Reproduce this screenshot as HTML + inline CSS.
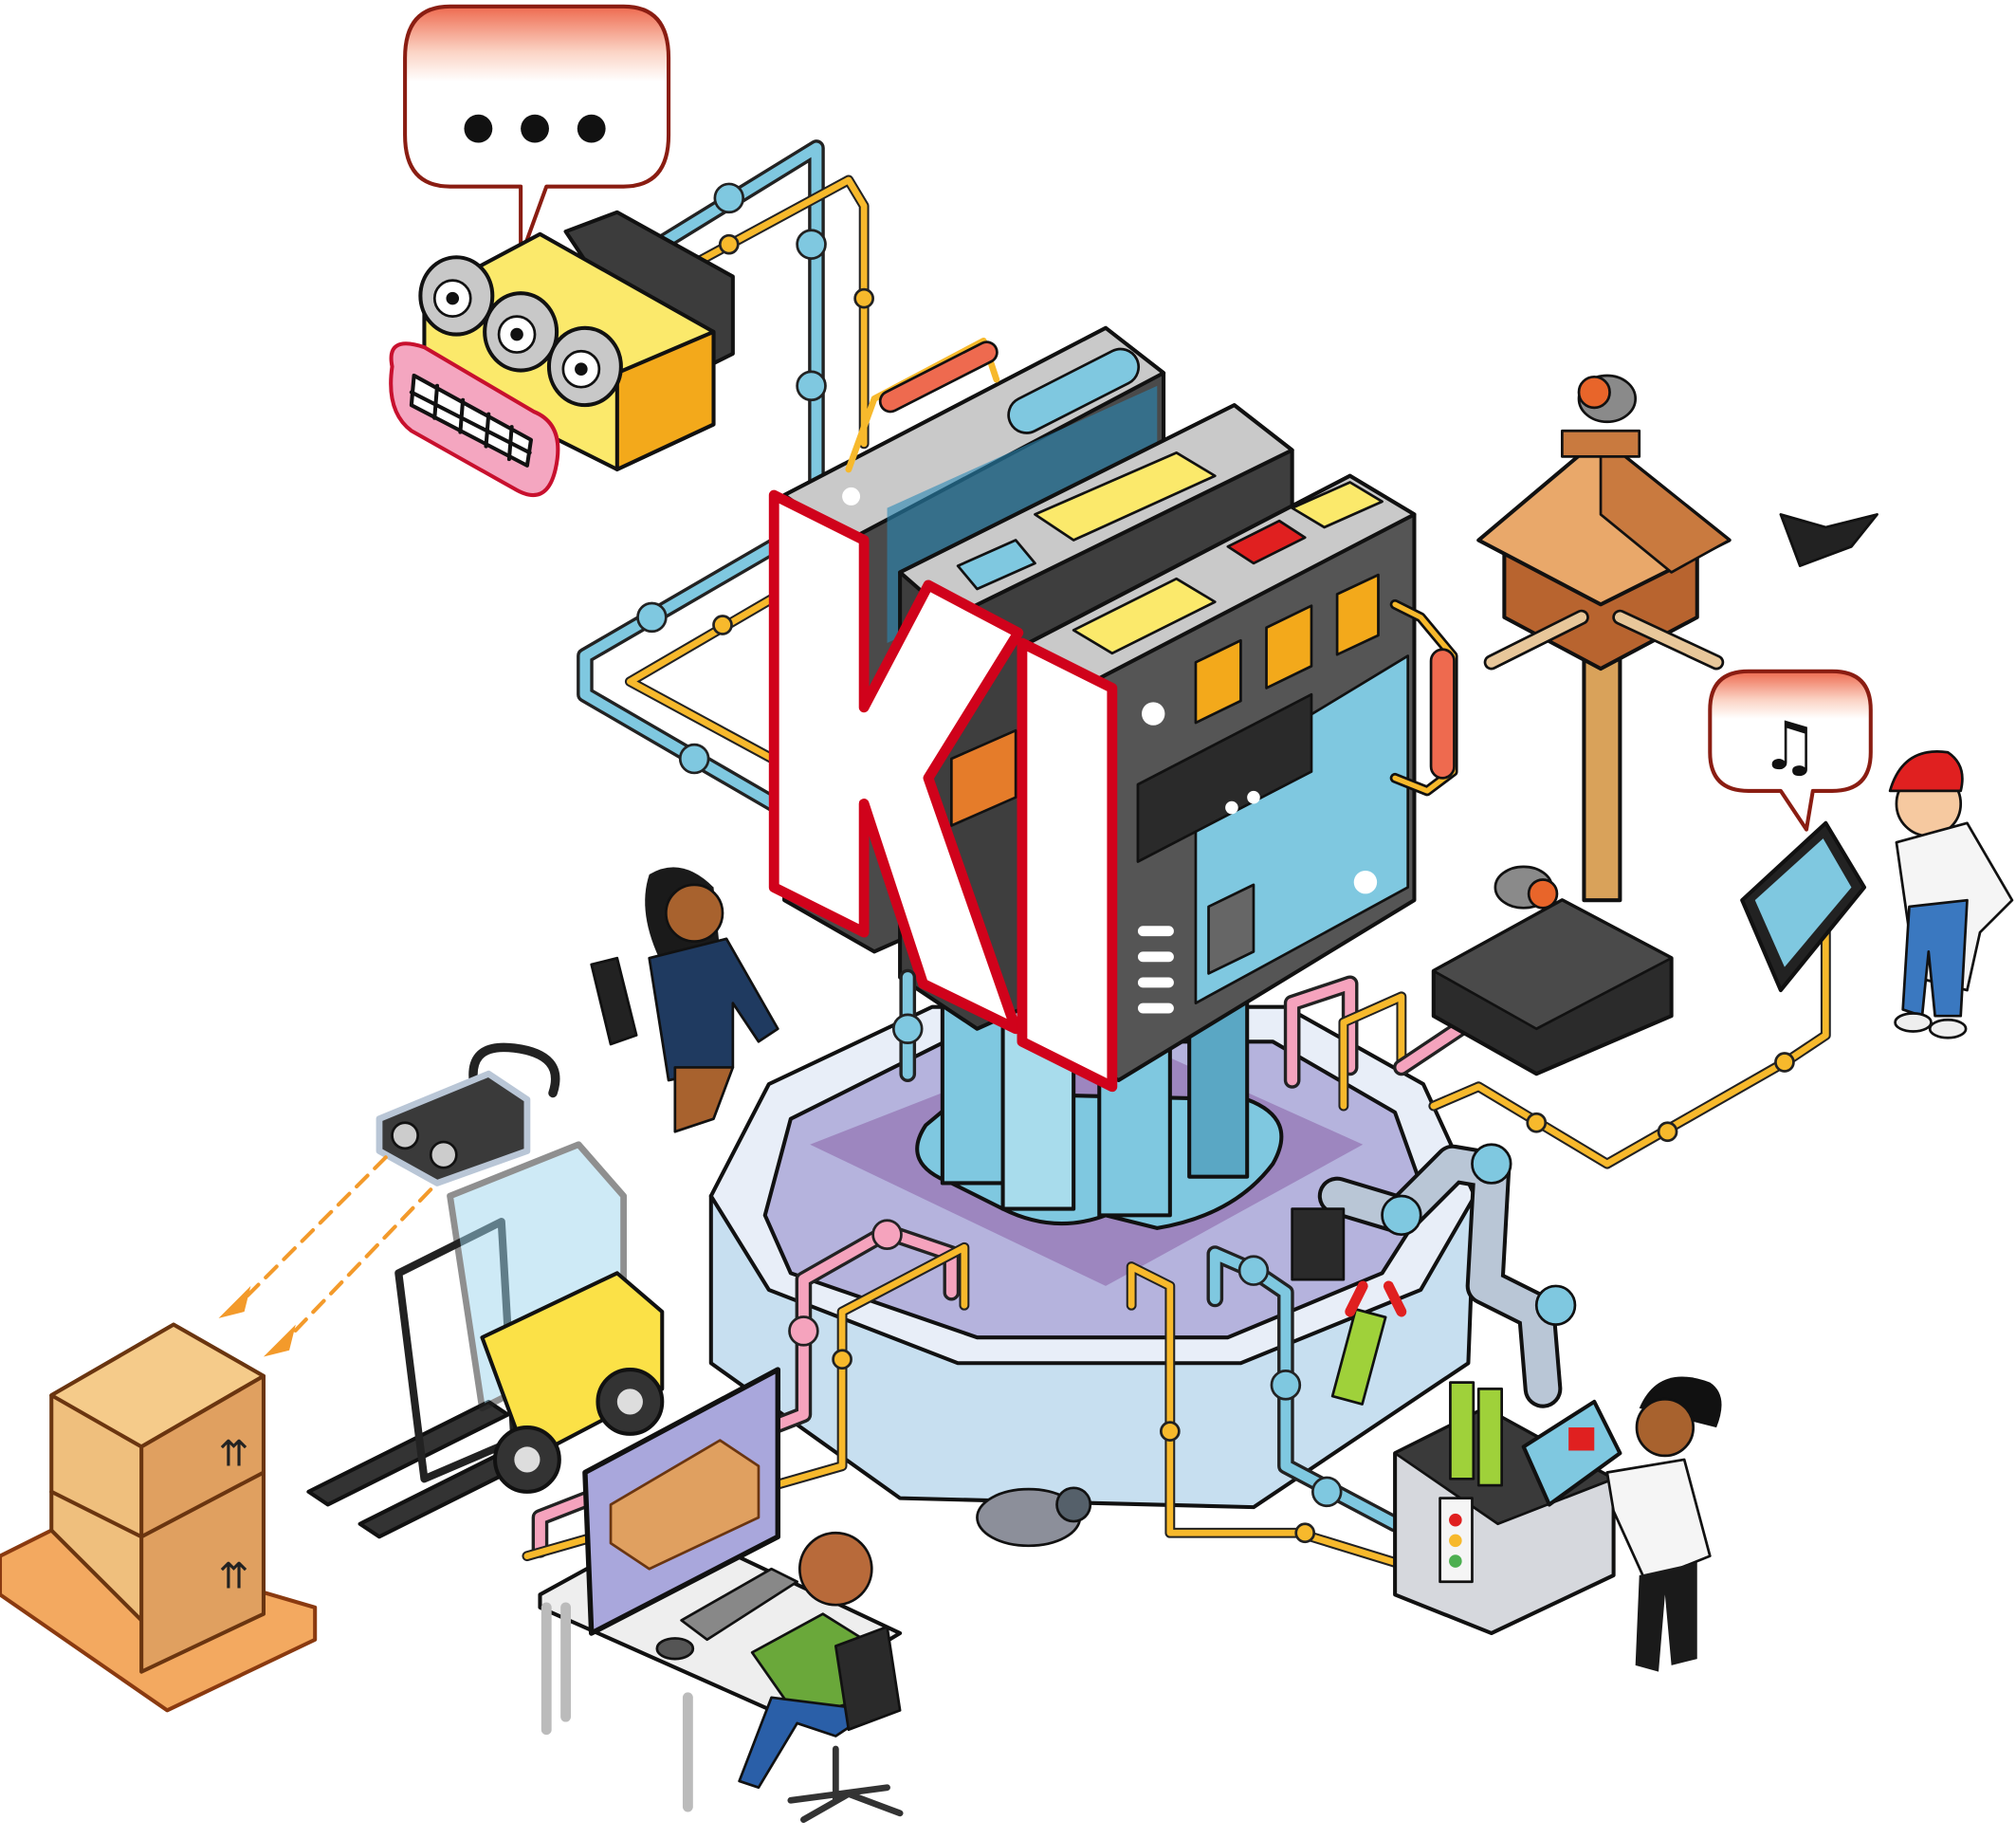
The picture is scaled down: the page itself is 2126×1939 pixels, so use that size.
<!DOCTYPE html>
<html><head><meta charset="utf-8"><style>
html,body{margin:0;padding:0;background:#fff;}
svg{display:block;}
</style></head><body>
<svg width="2126" height="1939" viewBox="0 0 1568 1430" xmlns="http://www.w3.org/2000/svg">
<defs>
<linearGradient id="bub" x1="0" y1="0" x2="0" y2="1">
<stop offset="0" stop-color="#ee6a4f"/><stop offset="0.18" stop-color="#fbd3c4"/><stop offset="0.3" stop-color="#fff"/><stop offset="1" stop-color="#fff"/>
</linearGradient>
</defs>
<g stroke-linejoin="round" stroke-linecap="round">

<!-- Pipes top -->
<g fill="none">
<path d="M505,195 L635,115 L635,390" stroke="#222" stroke-width="13"/>
<path d="M505,195 L635,115 L635,390" stroke="#7fc8e0" stroke-width="8"/>
<path d="M540,205 L660,140 L672,160 L672,345" stroke="#222" stroke-width="8"/>
<path d="M540,205 L660,140 L672,160 L672,345" stroke="#f7b92c" stroke-width="5"/>
<path d="M610,420 L455,510 L455,540 L610,630" stroke="#222" stroke-width="13"/>
<path d="M610,420 L455,510 L455,540 L610,630" stroke="#7fc8e0" stroke-width="8"/>
<path d="M610,460 L490,530 L610,595" stroke="#222" stroke-width="8"/>
<path d="M610,460 L490,530 L610,595" stroke="#f7b92c" stroke-width="5"/>
</g>
<g fill="#7fc8e0" stroke="#222" stroke-width="2">
<circle cx="567" cy="154" r="11"/><circle cx="631" cy="190" r="11"/><circle cx="631" cy="300" r="11"/>
<circle cx="507" cy="480" r="11"/><circle cx="540" cy="590" r="11"/>
</g>
<g fill="#f7b92c" stroke="#222" stroke-width="2">
<circle cx="567" cy="190" r="7"/><circle cx="672" cy="232" r="7"/><circle cx="562" cy="486" r="7"/>
</g>

<!-- Speech bubble top -->
<path d="M350,5 H485 Q520,5 520,45 V105 Q520,145 485,145 H425 L405,200 L405,145 H350 Q315,145 315,105 V45 Q315,5 350,5Z" fill="url(#bub)" stroke="#8a1d12" stroke-width="3"/>
<circle cx="372" cy="100" r="11" fill="#111"/><circle cx="416" cy="100" r="11" fill="#111"/><circle cx="460" cy="100" r="11" fill="#111"/>

<!-- Robot head -->
<polygon points="440,180 480,165 570,215 570,275 520,300" fill="#3c3c3c" stroke="#111" stroke-width="3"/>
<polygon points="330,230 420,182 555,258 555,330 480,365 330,290" fill="#fbe96b" stroke="#111" stroke-width="3"/>
<polygon points="480,290 555,258 555,330 480,365" fill="#f3a91b" stroke="#111" stroke-width="3"/>
<g fill="#c8c8c8" stroke="#111" stroke-width="3">
<ellipse cx="355" cy="230" rx="28" ry="30"/><ellipse cx="405" cy="258" rx="28" ry="30"/><ellipse cx="455" cy="285" rx="28" ry="30"/>
</g>
<g fill="#fff" stroke="#111" stroke-width="2">
<circle cx="352" cy="232" r="14"/><circle cx="402" cy="260" r="14"/><circle cx="452" cy="287" r="14"/>
</g>
<g fill="#111"><circle cx="352" cy="232" r="5"/><circle cx="402" cy="260" r="5"/><circle cx="452" cy="287" r="5"/></g>
<path d="M305,285 Q300,260 330,270 L415,320 Q440,330 432,365 Q425,395 400,380 L320,335 Q300,320 305,285Z" fill="#f4a6c0" stroke="#c8102e" stroke-width="3"/>
<path d="M322,292 L413,342 L410,362 L320,315Z" fill="#fff" stroke="#111" stroke-width="3"/>
<path d="M320,305 L412,352 M340,300 L338,325 M360,311 L358,336 M380,322 L378,347 M398,332 L396,357" stroke="#111" stroke-width="3" fill="none"/>

<!-- Platform -->
<polygon points="553,930 553,1060 700,1165 975,1172 1142,1060 1147,930" fill="#c7dff0" stroke="#111" stroke-width="3"/>
<polygon points="553,930 598,843 725,783 1000,783 1107,843 1147,930 1105,1003 965,1060 745,1060 598,1003" fill="#e8eef8" stroke="#111" stroke-width="3"/>
<polygon points="595,945 615,870 735,810 990,810 1085,865 1110,935 1075,990 955,1040 760,1040 615,990" fill="#b5b3dd" stroke="#111" stroke-width="3"/>
<polygon points="630,890 860,800 1060,890 860,1000" fill="#9d86bf"/>
<!-- column base -->
<path d="M720,875 Q700,905 740,920 L780,940 Q820,960 860,945 L900,955 Q960,945 990,905 Q1010,870 970,855 L750,850Z" fill="#7fc8e0" stroke="#111" stroke-width="3"/>
<g stroke="#111" stroke-width="3">
<rect x="733" y="760" width="50" height="160" fill="#7fc8e0"/>
<rect x="780" y="770" width="55" height="170" fill="#a8dcec"/>
<rect x="855" y="780" width="55" height="165" fill="#7fc8e0"/>
<rect x="925" y="760" width="45" height="155" fill="#5aa7c4"/>
</g>

<!-- Servers -->
<polygon points="610,385 860,255 905,290 905,640 680,740 610,700" fill="#4a4a4a" stroke="#111" stroke-width="3"/>
<polygon points="610,385 860,255 905,290 660,420" fill="#c9c9c9" stroke="#111" stroke-width="3"/>
<rect x="780" y="290" width="110" height="28" rx="14" transform="rotate(-27 835 304)" fill="#7fc8e0" stroke="#111" stroke-width="2"/>
<polygon points="690,395 900,300 900,400 690,500" fill="#2a88b5" opacity="0.6"/>
<polygon points="700,445 960,315 1005,350 1005,690 760,800 700,760" fill="#3e3e3e" stroke="#111" stroke-width="3"/>
<polygon points="700,445 960,315 1005,350 740,480" fill="#c9c9c9" stroke="#111" stroke-width="3"/>
<polygon points="805,400 915,352 945,370 835,420" fill="#fbe96b" stroke="#111" stroke-width="2"/>
<polygon points="745,440 790,420 805,438 760,458" fill="#7fc8e0" stroke="#111" stroke-width="2"/>
<polygon points="740,590 790,568 790,620 740,642" fill="#e57c2a" stroke="#111" stroke-width="2"/>
<polygon points="800,500 1050,370 1100,400 1100,700 870,840 800,800" fill="#555" stroke="#111" stroke-width="3"/>
<polygon points="800,500 1050,370 1100,400 850,530" fill="#c9c9c9" stroke="#111" stroke-width="3"/>
<polygon points="835,490 915,450 945,468 865,508" fill="#fbe96b" stroke="#111" stroke-width="2"/>
<polygon points="955,425 995,405 1015,418 975,438" fill="#e02020" stroke="#111" stroke-width="2"/>
<polygon points="1005,395 1050,375 1075,390 1030,410" fill="#fbe96b" stroke="#111" stroke-width="2"/>
<polygon points="930,610 1095,510 1095,690 930,780" fill="#7fc8e0" stroke="#111" stroke-width="2"/>
<g fill="#f3a91b" stroke="#111" stroke-width="2">
<polygon points="930,515 965,498 965,545 930,562"/><polygon points="985,488 1020,471 1020,518 985,535"/><polygon points="1040,462 1072,447 1072,494 1040,509"/>
</g>
<polygon points="885,610 1020,540 1020,600 885,670" fill="#2a2a2a" stroke="#111" stroke-width="2"/>
<polygon points="940,705 975,688 975,740 940,757" fill="#666" stroke="#111" stroke-width="2"/>
<g fill="#fff"><circle cx="897" cy="555" r="9"/><circle cx="1062" cy="686" r="9"/><circle cx="662" cy="386" r="7"/>
<rect x="885" y="720" width="28" height="8" rx="4"/><rect x="885" y="740" width="28" height="8" rx="4"/><rect x="885" y="760" width="28" height="8" rx="4"/><rect x="885" y="780" width="28" height="8" rx="4"/>
<circle cx="958" cy="628" r="5"/><circle cx="975" cy="620" r="5"/></g>
<path d="M1085,470 L1105,480 L1130,510 L1130,600 L1110,615 L1085,605" fill="none" stroke="#111" stroke-width="8"/>
<path d="M1085,470 L1105,480 L1130,510 L1130,600 L1110,615 L1085,605" fill="none" stroke="#f7b92c" stroke-width="4"/>
<rect x="1113" y="505" width="18" height="100" rx="9" fill="#ee6a4f" stroke="#111" stroke-width="2"/>
<path d="M660,365 L680,310 L765,265 L775,295" fill="none" stroke="#f7b92c" stroke-width="5"/>
<rect x="680" y="285" width="100" height="16" rx="8" transform="rotate(-27 730 293)" fill="#ee6a4f" stroke="#111" stroke-width="2"/>

<!-- KI -->
<polygon points="602,385 672,420 672,550 722,455 792,492 722,605 790,800 718,765 672,625 672,725 602,690" fill="#fff" stroke="#d0021b" stroke-width="8"/>
<polygon points="795,500 865,535 865,845 795,810" fill="#fff" stroke="#d0021b" stroke-width="8"/>

<!-- Pipes on platform -->
<g fill="none">
<path d="M740,1005 L740,975 L690,958 L625,995 L625,1100 L420,1180 L420,1205" stroke="#222" stroke-width="13"/>
<path d="M740,1005 L740,975 L690,958 L625,995 L625,1100 L420,1180 L420,1205" stroke="#f5a3bd" stroke-width="8"/>
<path d="M750,1015 L750,970 L655,1020 L655,1140 L410,1210" stroke="#222" stroke-width="8"/>
<path d="M750,1015 L750,970 L655,1020 L655,1140 L410,1210" stroke="#f7b92c" stroke-width="5"/>
<path d="M880,1015 L880,985 L910,1000 L910,1192 L1010,1192 L1085,1215" stroke="#222" stroke-width="8"/>
<path d="M880,1015 L880,985 L910,1000 L910,1192 L1010,1192 L1085,1215" stroke="#f7b92c" stroke-width="5"/>
<path d="M945,1010 L945,975 L975,988 L1000,1005 L1000,1140 L1085,1185" stroke="#222" stroke-width="13"/>
<path d="M945,1010 L945,975 L975,988 L1000,1005 L1000,1140 L1085,1185" stroke="#7fc8e0" stroke-width="8"/>
<path d="M1005,840 L1005,780 L1050,765 L1050,830" stroke="#222" stroke-width="13"/>
<path d="M1005,840 L1005,780 L1050,765 L1050,830" stroke="#f5a3bd" stroke-width="8"/>
<path d="M1045,860 L1045,795 L1090,775 L1090,830" stroke="#222" stroke-width="8"/>
<path d="M1045,860 L1045,795 L1090,775 L1090,830" stroke="#f7b92c" stroke-width="5"/>
<path d="M1090,830 L1150,790" stroke="#222" stroke-width="13"/><path d="M1090,830 L1150,790" stroke="#f5a3bd" stroke-width="8"/>
<path d="M1115,860 L1150,845 L1250,905 L1390,825 L1420,805 L1420,720" stroke="#222" stroke-width="8"/>
<path d="M1115,860 L1150,845 L1250,905 L1390,825 L1420,805 L1420,720" stroke="#f7b92c" stroke-width="5"/>
<path d="M706,760 L706,835" stroke="#222" stroke-width="13"/><path d="M706,760 L706,835" stroke="#7fc8e0" stroke-width="8"/>
</g>
<g fill="#f7b92c" stroke="#222" stroke-width="2"><circle cx="655" cy="1057" r="7"/><circle cx="910" cy="1113" r="7"/><circle cx="1015" cy="1192" r="7"/><circle cx="1195" cy="873" r="7"/><circle cx="1297" cy="880" r="7"/><circle cx="1388" cy="826" r="7"/></g>
<g fill="#7fc8e0" stroke="#222" stroke-width="2"><circle cx="1000" cy="1077" r="11"/><circle cx="1032" cy="1160" r="11"/><circle cx="975" cy="988" r="11"/><circle cx="706" cy="800" r="11"/></g>
<g fill="#f5a3bd" stroke="#222" stroke-width="2"><circle cx="625" cy="1035" r="11"/><circle cx="690" cy="960" r="11"/></g>

<!-- Birdhouse -->
<rect x="1232" y="480" width="28" height="220" fill="#d9a25a" stroke="#111" stroke-width="3"/>
<polygon points="1170,420 1245,385 1320,420 1320,480 1245,520 1170,480" fill="#b8642f" stroke="#111" stroke-width="3"/>
<polygon points="1150,420 1245,340 1345,420 1245,470" fill="#e9a86a" stroke="#111" stroke-width="3"/>
<polygon points="1245,340 1345,420 1300,445 1245,400" fill="#c97a3f" stroke="#111" stroke-width="2"/>
<rect x="1215" y="335" width="60" height="20" fill="#c97a3f" stroke="#111" stroke-width="2"/>
<path d="M1160,515 L1230,480 M1260,480 L1335,515" stroke="#111" stroke-width="12"/>
<path d="M1160,515 L1230,480 M1260,480 L1335,515" stroke="#e8c79a" stroke-width="8"/>
<!-- birds -->
<ellipse cx="1250" cy="310" rx="22" ry="18" fill="#8a8a8a" stroke="#111" stroke-width="2"/>
<circle cx="1240" cy="305" r="12" fill="#e8652a" stroke="#111" stroke-width="2"/>
<path d="M1385,400 L1420,410 L1460,400 L1440,425 L1400,440 Z" fill="#222" stroke="#111" stroke-width="2"/>
<ellipse cx="1185" cy="690" rx="22" ry="16" fill="#8a8a8a" stroke="#111" stroke-width="2"/>
<circle cx="1200" cy="695" r="11" fill="#e8652a" stroke="#111" stroke-width="2"/>
<ellipse cx="800" cy="1180" rx="40" ry="22" fill="#8c8f9a" stroke="#111" stroke-width="2"/>
<circle cx="835" cy="1170" r="13" fill="#55606a" stroke="#111" stroke-width="2"/>

<!-- Case -->
<polygon points="1115,755 1215,700 1300,745 1300,790 1195,835 1115,790" fill="#2b2b2b" stroke="#111" stroke-width="3"/>
<polygon points="1115,755 1215,700 1300,745 1195,800" fill="#4a4a4a" stroke="#111" stroke-width="2"/>

<!-- Right bubble -->
<path d="M1360,522 H1425 Q1455,522 1455,552 V585 Q1455,615 1425,615 H1410 L1405,645 L1385,615 H1360 Q1330,615 1330,585 V552 Q1330,522 1360,522Z" fill="url(#bub)" stroke="#8a1d12" stroke-width="3"/>
<text x="1392" y="598" font-family="DejaVu Sans, sans-serif" font-size="52" text-anchor="middle" fill="#111">♫</text>
<!-- tablet right -->
<polygon points="1355,700 1420,640 1450,690 1385,770" fill="#222" stroke="#111" stroke-width="3"/>
<polygon points="1365,700 1418,652 1440,690 1388,752" fill="#7fc8e0"/>
<!-- boy right -->
<circle cx="1500" cy="625" r="25" fill="#f6c9a0" stroke="#111" stroke-width="2"/>
<path d="M1470,615 Q1480,580 1515,585 Q1530,595 1525,615Z" fill="#e02020" stroke="#111" stroke-width="2"/>
<path d="M1475,655 L1530,640 L1565,700 L1540,725 L1530,770 L1490,760 Z" fill="#f5f5f5" stroke="#111" stroke-width="2"/>
<path d="M1485,705 L1530,700 L1525,790 L1505,790 L1500,740 L1495,790 L1480,785Z" fill="#3a78c0" stroke="#111" stroke-width="2"/>
<ellipse cx="1488" cy="795" rx="14" ry="7" fill="#eee" stroke="#111" stroke-width="2"/><ellipse cx="1515" cy="800" rx="14" ry="7" fill="#eee" stroke="#111" stroke-width="2"/>

<!-- woman -->
<path d="M505,680 Q530,665 555,690 L560,740 L515,750 Q495,710 505,680Z" fill="#1a1a1a"/>
<circle cx="540" cy="710" r="22" fill="#a8622e" stroke="#111" stroke-width="2"/>
<path d="M505,745 L565,730 L605,800 L590,810 L570,780 L570,830 L520,840 Z" fill="#1f3a60" stroke="#111" stroke-width="2"/>
<path d="M525,830 L570,830 L555,870 L525,880 Z" fill="#a8622e" stroke="#111" stroke-width="2"/>
<polygon points="460,750 480,745 495,805 475,812" fill="#222" stroke="#111" stroke-width="2"/>

<!-- Robot arm -->
<path d="M1040,930 L1090,945 L1130,905 L1160,910 L1155,1000 L1195,1020 L1200,1080" fill="none" stroke="#111" stroke-width="30"/>
<path d="M1040,930 L1090,945 L1130,905 L1160,910 L1155,1000 L1195,1020 L1200,1080" fill="none" stroke="#b9c6d6" stroke-width="24"/>
<g fill="#7fc8e0" stroke="#111" stroke-width="2"><circle cx="1090" cy="945" r="15"/><circle cx="1160" cy="905" r="15"/><circle cx="1210" cy="1015" r="15"/></g>
<rect x="1005" y="940" width="40" height="55" fill="#2a2a2a" stroke="#111" stroke-width="2"/>
<rect x="1045" y="1020" width="24" height="70" transform="rotate(15 1057 1055)" fill="#9fd13a" stroke="#111" stroke-width="2"/>
<path d="M1060,1000 L1050,1020 M1080,1000 L1090,1020" stroke="#e02020" stroke-width="8"/>
<!-- cart -->
<polygon points="1085,1130 1155,1095 1255,1150 1255,1225 1160,1270 1085,1240" fill="#d6d8dd" stroke="#111" stroke-width="3"/>
<polygon points="1085,1130 1155,1095 1255,1150 1165,1185" fill="#3a3a3a" stroke="#111" stroke-width="2"/>
<rect x="1120" y="1165" width="25" height="65" fill="#f5f5f5" stroke="#111" stroke-width="2"/>
<circle cx="1132" cy="1182" r="5" fill="#e02020"/><circle cx="1132" cy="1198" r="5" fill="#f7b92c"/><circle cx="1132" cy="1214" r="5" fill="#4caf50"/>
<rect x="1128" y="1075" width="18" height="75" fill="#9fd13a" stroke="#111" stroke-width="2"/><rect x="1150" y="1080" width="18" height="75" fill="#9fd13a" stroke="#111" stroke-width="2"/>
<!-- person right -->
<path d="M1275,1095 Q1290,1060 1330,1075 Q1345,1085 1335,1110Z" fill="#111"/>
<circle cx="1295" cy="1110" r="22" fill="#a8622e" stroke="#111" stroke-width="2"/>
<path d="M1250,1145 L1310,1135 L1330,1210 L1280,1230 L1255,1175Z" fill="#f5f5f5" stroke="#111" stroke-width="2"/>
<path d="M1275,1225 L1320,1215 L1320,1290 L1300,1295 L1295,1240 L1290,1300 L1272,1295Z" fill="#1a1a1a"/>
<polygon points="1185,1125 1240,1090 1260,1130 1205,1170" fill="#7fc8e0" stroke="#111" stroke-width="3"/>
<rect x="1220" y="1110" width="20" height="18" fill="#e02020"/>

<!-- Forklift -->
<polygon points="240,1160 380,1090 395,1100 255,1170" fill="#333" stroke="#111" stroke-width="3"/>
<polygon points="280,1185 410,1120 425,1130 295,1195" fill="#333" stroke="#111" stroke-width="3"/>
<polygon points="310,990 390,950 400,1120 330,1150" fill="none" stroke="#222" stroke-width="6"/>
<polygon points="350,930 450,890 485,930 485,1040 375,1095" fill="#9fd7ef" opacity="0.5" stroke="#222" stroke-width="5"/>
<polygon points="375,1040 480,990 515,1020 515,1080 410,1135" fill="#fbe147" stroke="#111" stroke-width="3"/>
<circle cx="490" cy="1090" r="25" fill="#333" stroke="#111" stroke-width="3"/><circle cx="490" cy="1090" r="10" fill="#ddd"/>
<circle cx="410" cy="1135" r="25" fill="#333" stroke="#111" stroke-width="3"/><circle cx="410" cy="1135" r="10" fill="#ddd"/>
<path d="M370,850 Q360,810 400,815 Q440,820 430,850" fill="none" stroke="#222" stroke-width="7"/>
<polygon points="295,870 380,835 410,855 410,895 340,920 295,895" fill="#3a3a3a" stroke="#b9c6d6" stroke-width="5"/>
<circle cx="315" cy="883" r="10" fill="#ccc" stroke="#111" stroke-width="2"/><circle cx="345" cy="898" r="10" fill="#ccc" stroke="#111" stroke-width="2"/>
<path d="M300,900 L180,1020 M335,925 L215,1050" stroke="#f39a2b" stroke-width="3" stroke-dasharray="12,8" fill="none"/>
<polygon points="170,1025 195,1000 190,1020" fill="#f39a2b"/><polygon points="205,1055 230,1030 225,1050" fill="#f39a2b"/>

<!-- Boxes -->
<polygon points="0,1210 40,1190 245,1250 245,1275 130,1330 0,1240" fill="#f3a960" stroke="#8a3a10" stroke-width="3"/>
<polygon points="40,1190 40,1085 135,1030 205,1070 205,1255 135,1285" fill="#efbf7d" stroke="#6a3510" stroke-width="3"/>
<polygon points="40,1085 135,1030 205,1070 110,1125" fill="#f5cb8a" stroke="#6a3510" stroke-width="3"/>
<polygon points="110,1125 205,1070 205,1255 110,1300" fill="#e0a060" stroke="#6a3510" stroke-width="3"/>
<path d="M40,1160 L110,1195 L205,1145" fill="none" stroke="#6a3510" stroke-width="3"/>
<text x="170" y="1140" font-family="DejaVu Sans,sans-serif" font-size="28" fill="#222">⇈</text>
<text x="170" y="1235" font-family="DejaVu Sans,sans-serif" font-size="28" fill="#222">⇈</text>

<!-- Desk & monitor -->
<polygon points="420,1240 520,1185 700,1270 600,1330 420,1250" fill="#eeeeee" stroke="#111" stroke-width="3"/>
<path d="M425,1250 L425,1345 M535,1320 L535,1405 M440,1250 L440,1335" stroke="#bbb" stroke-width="8"/>
<polygon points="455,1145 605,1065 605,1195 460,1270" fill="#a9a7dc" stroke="#111" stroke-width="4"/>
<polygon points="475,1170 560,1120 590,1140 590,1180 505,1220 475,1200" fill="#e0a060" stroke="#6a3510" stroke-width="2"/>
<polygon points="530,1260 600,1220 620,1230 550,1275" fill="#888" stroke="#111" stroke-width="2"/>
<ellipse cx="525" cy="1282" rx="14" ry="8" fill="#555" stroke="#111" stroke-width="2"/>
<!-- man -->
<circle cx="650" cy="1220" r="28" fill="#b86a3a" stroke="#111" stroke-width="2"/>
<path d="M585,1285 L640,1255 L680,1280 L680,1320 L620,1335Z" fill="#6aa83a" stroke="#111" stroke-width="2"/>
<path d="M600,1320 L680,1330 L650,1350 L620,1340 L590,1390 L575,1385Z" fill="#2a5fa8" stroke="#111" stroke-width="2"/>
<polygon points="650,1280 690,1265 700,1330 660,1345" fill="#2a2a2a" stroke="#111" stroke-width="2"/>
<path d="M650,1360 L650,1400 M615,1400 L690,1390 M625,1415 L660,1395 L700,1410" stroke="#333" stroke-width="5" fill="none"/>
</g>
</svg>
</body></html>
